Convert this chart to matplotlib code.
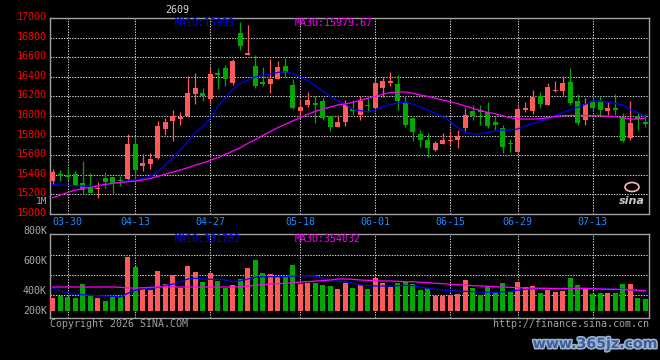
import matplotlib
matplotlib.use("Agg")
import matplotlib.pyplot as plt
import matplotlib.patheffects as pe
from matplotlib.patches import Ellipse
from matplotlib.transforms import ScaledTranslation
import numpy as np

# daily k-line, 80 sessions (03-27 .. 07-21)
dates = ["03-30", "04-13", "04-27", "05-18", "06-01", "06-15", "06-29", "07-13"]
date_idx = [2, 11, 21, 33, 43, 53, 62, 72]

opens = [15336, 15407, 15400, 15407, 15319, 15261, 15255, 15367, 15373, 15345,
         15353, 15714, 15492, 15506, 15574, 15870, 15952, 15972, 15999, 16224,
         16238, 16177, 16439, 16490, 16337, 16851, 16626, 16514, 16347, 16330,
         16381, 16510, 16320, 16054, 16112, 16132, 16153, 16000, 15891, 15942,
         16075, 16010, 16112, 16085, 16289, 16340, 16323, 16146, 15976, 15816,
         15751, 15652, 15717, 15744, 15754, 15881, 16051, 16064, 16044, 15935,
         15877, 15727, 15635, 16061, 16051, 16204, 16115, 16252, 16258, 16347,
         16153, 15955, 16149, 16139, 16054, 16078, 15976, 15778, 16000, 15935]
closes = [15428, 15390, 15380, 15288, 15244, 15217, 15262, 15326, 15305, 15340,
          15714, 15448, 15520, 15560, 15897, 15938, 15999, 15989, 16234, 16289,
          16200, 16428, 16422, 16381, 16561, 16718, 16643, 16309, 16330, 16381,
          16500, 16435, 16081, 16091, 16163, 16115, 15983, 15891, 15938, 16112,
          16051, 16153, 16098, 16333, 16357, 16357, 16156, 15908, 15833, 15758,
          15676, 15724, 15754, 15754, 15795, 16010, 16003, 16044, 15898, 15908,
          15686, 15714, 16071, 16078, 16194, 16126, 16296, 16265, 16333, 16136,
          15932, 16122, 16078, 16061, 16081, 16061, 15744, 15932, 15972, 15918]
highs = [15458, 15448, 15479, 15438, 15540, 15418, 15322, 15428, 15380, 15387,
         15816, 15782, 15612, 15625, 15948, 15979, 16061, 16040, 16408, 16439,
         16286, 16486, 16486, 16520, 16585, 16956, 16929, 16619, 16500, 16585,
         16561, 16588, 16374, 16160, 16241, 16200, 16180, 16000, 16010, 16160,
         16163, 16204, 16180, 16391, 16398, 16449, 16418, 16200, 15976, 15853,
         15823, 15744, 15829, 15846, 15853, 16078, 16112, 16112, 16139, 15993,
         15908, 15765, 16105, 16139, 16265, 16241, 16333, 16357, 16412, 16493,
         16221, 16180, 16214, 16200, 16139, 16221, 16027, 16153, 16044, 16010]
lows = [15295, 15339, 15350, 15285, 15200, 15210, 15166, 15268, 15200, 15285,
        15339, 15312, 15441, 15455, 15560, 15809, 15748, 15911, 15993, 16119,
        16149, 16126, 16279, 16303, 16316, 16677, 16620, 16282, 16303, 16238,
        16381, 16394, 16074, 16003, 16088, 15932, 15956, 15850, 15884, 15894,
        16010, 15959, 16044, 16078, 16197, 16306, 16061, 15887, 15744, 15686,
        15584, 15642, 15714, 15703, 15676, 15846, 15959, 15908, 15874, 15857,
        15618, 15629, 15629, 16044, 16023, 16085, 16112, 16241, 16214, 16112,
        15908, 15908, 16061, 16010, 16010, 16010, 15734, 15754, 15857, 15891]

ma10 = [15302, 15295, 15292, 15288, 15285, 15285, 15288, 15302, 15312, 15322,
        15339, 15349, 15363, 15383, 15431, 15499, 15567, 15652, 15737, 15833,
        15891, 15976, 16095, 16187, 16275, 16333, 16367, 16398, 16415, 16428,
        16445, 16452, 16432, 16401, 16360, 16309, 16255, 16197, 16153, 16122,
        16068, 16054, 16044, 16061, 16095, 16119, 16132, 16139, 16119, 16095,
        16061, 16027, 15993, 15942, 15881, 15833, 15816, 15819, 15833, 15847,
        15857, 15857, 15867, 15898, 15925, 15949, 15969, 16003, 16037, 16064,
        16088, 16119, 16153, 16153, 16139, 16129, 16112, 16068, 16034, 15993]
ma30 = [15166, 15193, 15220, 15244, 15261, 15271, 15288, 15302, 15312, 15322,
        15329, 15336, 15349, 15363, 15383, 15407, 15428, 15448, 15472, 15499,
        15520, 15547, 15574, 15608, 15642, 15676, 15720, 15758, 15802, 15840,
        15881, 15915, 15949, 15983, 16017, 16047, 16071, 16091, 16112, 16122,
        16139, 16160, 16180, 16200, 16221, 16238, 16245, 16245, 16231, 16214,
        16200, 16183, 16163, 16146, 16126, 16102, 16078, 16057, 16037, 16023,
        16003, 15983, 15969, 15969, 15969, 15972, 15983, 15996, 16003, 16006,
        16006, 16006, 16003, 16003, 15996, 15993, 15983, 15969, 15969, 15980]

# volume in thousands
volume_k = [293, 307, 300, 293, 389, 307, 293, 270, 300, 300,
            580, 510, 352, 347, 482, 387, 452, 363, 517, 475,
            405, 468, 412, 363, 382, 426, 503, 559, 466, 459,
            436, 436, 522, 391, 398, 398, 382, 377, 354, 398,
            363, 382, 354, 433, 396, 370, 398, 403, 387, 347,
            363, 307, 307, 312, 317, 417, 363, 312, 370, 335,
            394, 335, 401, 366, 373, 324, 349, 333, 342, 433,
            382, 354, 317, 326, 326, 328, 389, 389, 293, 286]
vol_ma10_k = [363, 340, 328, 319, 314, 310, 307, 305, 303, 298,
              324, 345, 354, 359, 366, 380, 387, 405, 424, 429,
              424, 422, 422, 417, 405, 412, 424, 436, 440, 440,
              440, 440, 445, 447, 447, 445, 430, 410, 410, 405,
              394, 382, 377, 375, 375, 375, 377, 380, 377, 368,
              359, 352, 347, 342, 340, 338, 335, 333, 331, 331,
              333, 338, 345, 352, 356, 359, 359, 359, 359, 359,
              359, 359, 356, 354, 354, 354, 352, 349, 345, 332]
vol_ma30_k = [368, 368, 368, 368, 368, 368, 368, 368, 368, 366,
              361, 361, 363, 366, 368, 368, 368, 368, 368, 368,
              368, 368, 368, 368, 368, 370, 375, 380, 384, 389,
              391, 394, 398, 403, 405, 410, 412, 417, 424, 424,
              422, 417, 415, 412, 410, 410, 408, 405, 405, 401,
              398, 394, 391, 387, 384, 382, 377, 375, 373, 370,
              368, 366, 363, 361, 361, 359, 359, 356, 356, 359,
              359, 359, 356, 354, 352, 352, 349, 349, 345, 342]

price_ticks = list(range(15000, 17001, 200))
vol_labels = ["800K", "600K", "400K", "200K"]

RED = "#ff5a5a"
GREEN = "#00a800"
GRID = "#d0d0d0"
BORDER = "#a0a0a0"
DOT = (0, (1.3, 1.3))

plt.rcParams["font.family"] = ["DejaVu Sans Mono"]
plt.rcParams["font.size"] = 7.2

W, H = 660, 360
fig = plt.figure(figsize=(6.6, 3.6), dpi=100, facecolor="black")
ax = fig.add_axes([50 / W, 1 - 214 / H, 599 / W, 196 / H], facecolor="black")
axv = fig.add_axes([50 / W, 1 - 318 / H, 599 / W, 84 / H], facecolor="black", sharex=ax)

x = np.arange(len(opens))
o = np.array(opens); c = np.array(closes)
colors = np.where(c >= o, RED, GREEN)

# candles
ax.vlines(x, lows, highs, colors=colors, lw=0.9, zorder=2)
body_lo = np.minimum(o, c)
body_h = np.maximum(np.abs(c - o), 9)
ax.bar(x, body_h, bottom=body_lo, width=0.72, color=colors, linewidth=0, zorder=3)
ax.plot(x, ma10, color="#0000ff", lw=0.9, zorder=4)
ax.plot(x, ma30, color="#ff00ff", lw=0.9, zorder=4)

ax.set_xlim(-0.36, 79.5)
ax.set_ylim(15000, 17000)
ax.set_yticks(price_ticks)
ax.set_xticks(date_idx, dates)
ax.grid(True, color=GRID, linestyle=DOT, lw=0.75)
ax.set_axisbelow(True)
ax.tick_params(axis="y", length=0, pad=2.2, labelcolor="#ff0000")
ax.tick_params(axis="x", length=0, pad=2.5, labelcolor="#1a8cff")
# price labels sit a little above their gridlines
lift = ScaledTranslation(0, 2 / 100, fig.dpi_scale_trans)
for lab in ax.get_yticklabels():
    lab.set_transform(lab.get_transform() + lift)

# volume
vol = np.array(volume_k) * 1000
base = 200000
axv.bar(x, vol - base, bottom=base, width=0.72, color=colors, linewidth=0, zorder=3)
axv.plot(x, np.array(vol_ma10_k) * 1000, color="#0000ff", lw=0.9, zorder=4)
axv.plot(x, np.array(vol_ma30_k) * 1000, color="#ff00ff", lw=0.9, zorder=4)
vmin, vmax = 151000, 739000
axv.set_ylim(vmin, vmax)
axv.set_yticks([])
for frac in (0.274, 0.512, 0.75):
    axv.axhline(vmin + frac * (vmax - vmin), color=GRID, linestyle=DOT, lw=0.75, zorder=1)
for d in date_idx:
    axv.axvline(d, color=GRID, linestyle=DOT, lw=0.75, zorder=1)
axv.tick_params(axis="x", length=0, labelbottom=False)

for a in (ax, axv):
    for s in a.spines.values():
        s.set_color(BORDER)
        s.set_linewidth(1)

# labels around the panels
fig.text(47 / W, 1 - 201.5 / H, "1M", ha="right", va="center", color="#a8a8a8", fontsize=6.8)
for lab, ypx in zip(vol_labels, [231, 261, 291, 311]):
    fig.text(47 / W, 1 - ypx / H, lab, ha="right", va="center", color="#a8a8a8")

fig.text(165 / W, 1 - 10 / H, "2609", ha="left", va="center", color="#d8d8d8")
fig.text(175 / W, 1 - 23.5 / H, "MA10:15993", ha="left", va="center", color="#0000ff")
fig.text(295 / W, 1 - 23.5 / H, "MA30:15979.67", ha="left", va="center", color="#ff00ff")
fig.text(175 / W, 1 - 239 / H, "MA10:331782", ha="left", va="center", color="#0000ff")
fig.text(295 / W, 1 - 239 / H, "MA30:354032", ha="left", va="center", color="#ff00ff")
fig.text(50 / W, 1 - 324 / H, "Copyright 2026 SINA.COM", ha="left", va="center", color="#a0a0a0")
fig.text(649 / W, 1 - 324 / H, "http://finance.sina.com.cn", ha="right", va="center", color="#a0a0a0")

# sina logo + site watermark
fig.patches.append(Ellipse((632 / W, 1 - 187 / H), 14 / W, 9 / H, transform=fig.transFigure,
                           facecolor="none", edgecolor="#ffb6b6", lw=1.2))
fig.text(632 / W, 1 - 201 / H, "sina", ha="center", va="center", color="#c8c8c8",
         family="DejaVu Sans", fontsize=8, fontweight="bold", style="italic")
fig.text(595 / W, 1 - 344 / H, "www.365jz.com", ha="center", va="center", color="#3d5f96",
         family="DejaVu Sans", fontsize=10.2, fontweight="bold",
         path_effects=[pe.withStroke(linewidth=2.2, foreground="#9fb4d4")])

fig.savefig("out.png", dpi=100, facecolor="black")
